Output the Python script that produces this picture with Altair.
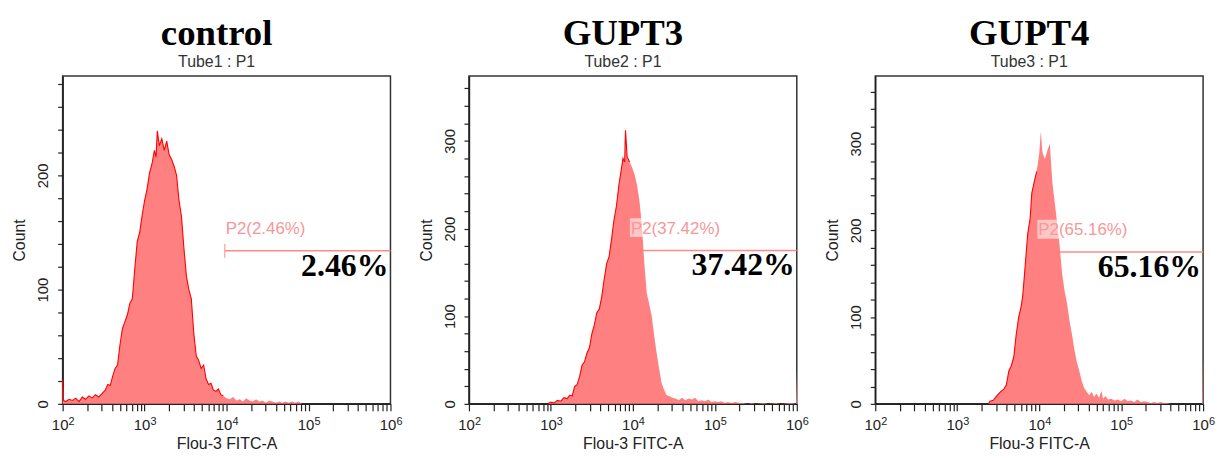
import altair as alt
import pandas as pd

# ---------------- data ----------------
PANEL_TITLES = ["control", "GUPT3", "GUPT4"]
PANEL_SUBTITLES = ["Tube1 : P1", "Tube2 : P1", "Tube3 : P1"]
GATE_LABELS = ["P2(2.46%)", "P2(37.42%)", "P2(65.16%)"]
BIG_LABELS = ["2.46%", "37.42%", "65.16%"]
GATE_START = [9500, 9200, 9500]
GATE_END = [1000000, 1000000, 1000000]
GATE_COUNT = [134, 175, 175]
Y_MAX = [287, 374, 378]

DECADES = [100, 1000, 10000, 100000, 1000000]
EXPONENTS = ["2", "3", "4", "5", "6"]

# log10 of Flou-3 FITC-A intensity, and event counts
CTRL_LOG = [2.00, 2.01, 2.04, 2.08, 2.12, 2.16, 2.20, 2.24, 2.28, 2.32, 2.36, 2.40, 2.44, 2.48,
            2.52, 2.55, 2.58, 2.61, 2.64, 2.67, 2.70, 2.73, 2.76, 2.79, 2.82, 2.85, 2.88, 2.91,
            2.94, 2.97, 3.00, 3.03, 3.06, 3.09, 3.12, 3.14, 3.155, 3.18, 3.21, 3.24, 3.27, 3.30,
            3.33, 3.36, 3.39, 3.42, 3.45, 3.48, 3.51, 3.54, 3.57, 3.60, 3.63, 3.66, 3.69, 3.72,
            3.75, 3.78, 3.81, 3.84, 3.87, 3.90, 3.93, 3.96, 4.00, 4.04, 4.08, 4.12, 4.16, 4.20,
            4.24, 4.28, 4.32, 4.36, 4.40, 4.44, 4.48, 4.52, 4.56, 4.60, 4.64, 4.68, 4.72, 4.76,
            4.80, 4.84, 4.88, 4.92, 6.00]
CTRL_COUNT = [21, 3, 2, 4, 3, 5, 2, 6, 4, 7, 5, 8, 6, 9,
              12, 17, 16, 24, 31, 34, 52, 66, 72, 78, 88, 92, 118, 142,
              150, 165, 178, 188, 202, 210, 222, 216, 239, 226, 232, 222, 230, 218,
              214, 208, 200, 178, 164, 136, 112, 100, 92, 62, 42, 38, 31, 34,
              22, 17, 18, 12, 11, 13, 8, 7, 5, 4, 6, 3, 4, 2,
              5, 3, 2, 4, 2, 3, 1, 3, 2, 1, 2, 1, 2, 1,
              2, 1, 2, 0, 0]

GUPT3_LOG = [2.96, 3.00, 3.04, 3.08, 3.12, 3.16, 3.20, 3.23, 3.26, 3.29, 3.32, 3.35, 3.38, 3.41,
             3.44, 3.47, 3.50, 3.53, 3.56, 3.59, 3.62, 3.65, 3.68, 3.71, 3.74, 3.77, 3.80, 3.83,
             3.86, 3.88, 3.90, 3.91, 3.93, 3.96, 3.99, 4.02, 4.05, 4.08, 4.11, 4.14, 4.17, 4.20,
             4.23, 4.26, 4.29, 4.32, 4.35, 4.38, 4.41, 4.44, 4.48, 4.52, 4.56, 4.60, 4.64, 4.68,
             4.72, 4.76, 4.80, 4.84, 4.88, 4.92, 4.96, 5.00, 5.04, 5.08, 5.12, 5.16, 5.20, 5.25,
             5.30, 5.35, 5.40, 5.45, 5.50, 5.60, 5.65, 5.75, 5.80, 5.90, 5.95, 5.99, 6.00]
GUPT3_COUNT = [0, 2, 1, 4, 3, 7, 6, 10, 9, 20, 22, 31, 44, 48,
               58, 64, 80, 90, 104, 108, 122, 142, 160, 168, 188, 210, 226, 250,
               268, 280, 276, 312, 282, 276, 270, 262, 250, 232, 204, 160, 126, 114,
               100, 78, 58, 40, 24, 16, 10, 9, 7, 6, 4, 7, 4, 6,
               5, 7, 3, 4, 3, 5, 2, 3, 2, 3, 1, 2, 1, 2,
               1, 1, 0, 1, 0, 1, 0, 1, 0, 1, 1, 0, 39]

GUPT4_LOG = [3.38, 3.40, 3.44, 3.48, 3.51, 3.54, 3.57, 3.60, 3.63, 3.66, 3.69, 3.72, 3.75, 3.78,
             3.80, 3.83, 3.86, 3.89, 3.91, 3.94, 3.97, 4.00, 4.02, 4.04, 4.07, 4.10, 4.13, 4.16,
             4.19, 4.22, 4.25, 4.28, 4.31, 4.34, 4.37, 4.40, 4.43, 4.46, 4.49, 4.52, 4.55, 4.58,
             4.61, 4.64, 4.67, 4.70, 4.73, 4.76, 4.78, 4.81, 4.84, 4.88, 4.92, 4.96, 5.00, 5.04,
             5.08, 5.12, 5.16, 5.20, 5.24, 5.28, 5.32, 5.36, 5.40, 5.44, 5.48, 5.52, 5.56, 5.60,
             5.99, 6.00]
GUPT4_COUNT = [0, 3, 4, 9, 12, 15, 17, 22, 38, 44, 54, 80, 100, 112,
               125, 160, 196, 214, 243, 256, 268, 288, 314, 290, 282, 292, 300, 256,
               232, 208, 182, 150, 130, 116, 96, 80, 62, 48, 38, 26, 18, 14,
               10, 14, 8, 12, 7, 15, 6, 9, 5, 6, 4, 5, 3, 6,
               3, 4, 2, 5, 2, 3, 2, 1, 2, 1, 2, 1, 1, 0,
               0, 52]

SERIES = [(CTRL_LOG, CTRL_COUNT), (GUPT3_LOG, GUPT3_COUNT), (GUPT4_LOG, GUPT4_COUNT)]

X_TICKS = [k * 10 ** n for n in range(2, 6) for k in range(1, 10)] + [1000000]

# ---------------- styles ----------------
FILL = "#ff8080"
OUTLINE = "#ff0000"
GATE_COLOR = "#ff8a8a"
GATE_TEXT = "#f59898"
SANS = "Liberation Sans"
SERIF = "Liberation Serif"
AXIS_TEXT = "#222222"

X_LABEL_EXPR = ("(datum.value == 100 || datum.value == 1000 || datum.value == 10000 || "
                "datum.value == 100000 || datum.value == 1000000) ? '10' : ''")
Y_LABEL_EXPR = "datum.value % 100 == 0 ? datum.label : ''"


def panel(i):
    logs, counts = SERIES[i]
    df = pd.DataFrame({"fl": [10 ** v for v in logs], "count": counts})
    df_line = df[df["fl"] < GATE_START[i]]
    gate = pd.DataFrame({
        "x": [GATE_START[i]], "x2": [GATE_END[i]], "y": [GATE_COUNT[i]],
        "label": [GATE_LABELS[i]], "big": [BIG_LABELS[i]],
    })
    sup = pd.DataFrame({"x": DECADES, "exp": EXPONENTS})

    xscale = alt.Scale(type="log", domain=[100, 1000000], nice=False)
    yscale = alt.Scale(domain=[0, Y_MAX[i]], nice=False, zero=True)
    xaxis = alt.Axis(values=X_TICKS, labelExpr=X_LABEL_EXPR, title="Flou-3 FITC-A",
                     grid=False, labelFlush=False, labelOverlap=False, tickSize=7,
                     labelPadding=7, titlePadding=3, labelFontSize=15, labelOffset=-3)
    yaxis = alt.Axis(values=list(range(0, Y_MAX[i] + 1, 20)), labelExpr=Y_LABEL_EXPR,
                     title="Count", grid=False, labelAngle=270, labelAlign="center",
                     labelBaseline="bottom", labelOverlap=False, tickSize=5,
                     labelPadding=7, titlePadding=8, labelFlush=False)

    def X(f):
        return alt.X(f, type="quantitative", scale=xscale, axis=xaxis)

    def Y(f):
        return alt.Y(f, type="quantitative", scale=yscale, axis=yaxis)

    rule = alt.Chart(gate).mark_rule(color=GATE_COLOR, strokeWidth=1.5).encode(
        x=X("x"), x2=alt.X2("x2"), y=Y("y"))
    tick = alt.Chart(gate).mark_tick(orient="vertical", color=GATE_COLOR, size=14,
                                     thickness=1.5).encode(x=X("x"), y=Y("y"))
    area = alt.Chart(df).mark_area(color=FILL, opacity=1).encode(x=X("fl"), y=Y("count"))
    line = alt.Chart(df_line).mark_line(color=OUTLINE, strokeWidth=1.1).encode(
        x=X("fl"), y=Y("count"))
    box = alt.Chart(gate).mark_rect(color="white", opacity=0.55, width=96, height=19,
                                    xOffset=48, yOffset=-23).encode(x=X("x"), y=Y("y"))
    lab = alt.Chart(gate).mark_text(align="left", baseline="alphabetic", dx=1, dy=-17,
                                    font=SANS, fontSize=17, color=GATE_TEXT).encode(
        x=X("x"), y=Y("y"), text="label:N")
    big = alt.Chart(gate).mark_text(align="right", baseline="alphabetic", dx=-2, dy=25,
                                    font=SERIF, fontWeight="bold", fontSize=32,
                                    color="black").encode(
        x=X("x2"), y=Y("y"), text="big:N")
    sups = alt.Chart(sup).mark_text(align="left", baseline="alphabetic", dx=6, dy=21,
                                    font=SANS, fontSize=11, color=AXIS_TEXT).encode(
        x=X("x"), y=alt.datum(0, type="quantitative", scale=yscale, axis=yaxis),
        text="exp:N")

    return alt.layer(rule, tick, area, line, box, lab, big, sups).properties(
        width=330, height=330,
        title=alt.TitleParams(
            text=PANEL_TITLES[i], subtitle=PANEL_SUBTITLES[i],
            font=SERIF, fontSize=37, fontWeight="bold", color="black",
            subtitleFont=SANS, subtitleFontSize=16, subtitleColor="#333333",
            subtitlePadding=1, offset=5, anchor="middle", frame="group", dx=-10,
        ),
    )


chart = alt.hconcat(panel(0), panel(1), panel(2), spacing=79, bounds="flush").properties(
    padding={"top": 5, "left": 3, "right": 0, "bottom": 0}
).configure_view(
    stroke="#333333", strokeWidth=1.5
).configure_axis(
    labelFont=SANS, labelFontSize=15, labelColor=AXIS_TEXT,
    titleFont=SANS, titleFontSize=16, titleColor=AXIS_TEXT, titleFontWeight="normal",
    domainColor=AXIS_TEXT, domainWidth=1.5, tickColor=AXIS_TEXT, tickWidth=1.2,
)

chart.save("out.html", embed_options={"renderer": "svg", "actions": False})
